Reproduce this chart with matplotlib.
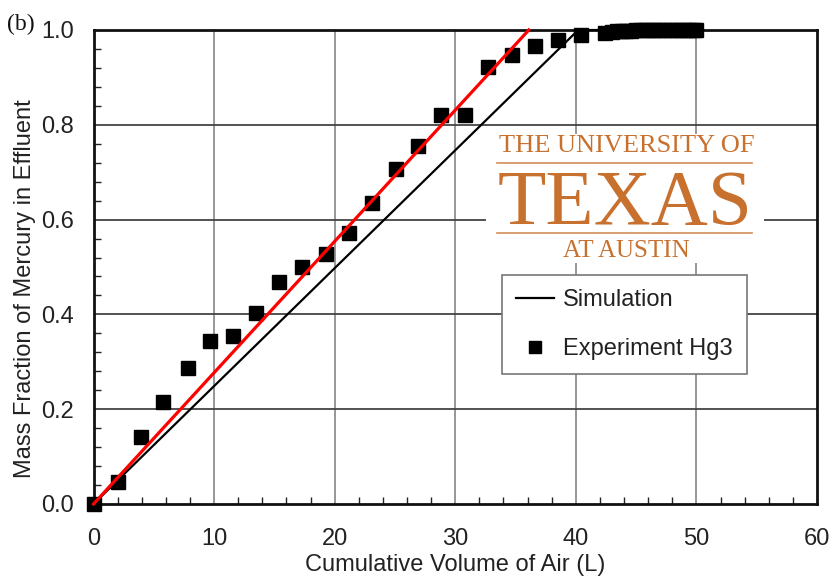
import matplotlib
matplotlib.use("Agg")
import matplotlib.pyplot as plt
from matplotlib.ticker import MultipleLocator, FormatStrFormatter

# ---- data ----
exp_x = [0.0, 2.0, 3.9, 5.8, 7.8, 9.7, 11.6, 13.5, 15.4, 17.3, 19.3, 21.2,
         23.1, 25.1, 26.9, 28.8, 30.8, 32.7, 34.7, 36.6, 38.5, 40.4, 42.4,
         43.0, 43.4, 43.8, 44.2, 44.6, 45.0, 45.4, 45.8, 46.2, 46.6, 47.0,
         47.4, 47.8, 48.2, 48.6, 49.0, 49.4, 49.8, 50.0]
exp_y = [0.0, 0.046, 0.141, 0.215, 0.286, 0.343, 0.354, 0.404, 0.469, 0.499,
         0.528, 0.571, 0.636, 0.707, 0.756, 0.821, 0.821, 0.922, 0.947, 0.966,
         0.979, 0.989, 0.994, 0.996, 0.997, 0.998, 0.998, 0.998, 0.999, 0.999,
         0.999, 0.999, 0.999, 1.0, 1.0, 1.0, 1.0, 1.0, 1.0, 1.0, 1.0, 1.0]
sim_x = [0.0, 40.2, 50.0]
sim_y = [0.0, 1.0, 1.0]
fit_x = [0.0, 36.1]
fit_y = [0.0, 1.0]

xticks = [0, 10, 20, 30, 40, 50, 60]
yticks = [0.0, 0.2, 0.4, 0.6, 0.8, 1.0]

plt.rcParams['font.family'] = ['Liberation Sans', 'DejaVu Sans']
FS = 17

fig = plt.figure(figsize=(8.31, 5.85), dpi=100)
ax = fig.add_axes([93.5 / 831, 1 - 504 / 585, (817 - 93.5) / 831, (504 - 30) / 585])

ax.set_xlim(0, 60)
ax.set_ylim(0, 1.0)
ax.set_xticks(xticks)
ax.set_yticks(yticks)
ax.xaxis.set_minor_locator(MultipleLocator(2))
ax.yaxis.set_minor_locator(MultipleLocator(0.04))
ax.yaxis.set_major_formatter(FormatStrFormatter('%.1f'))

for x in xticks[1:-1]:
    ax.axvline(x, color='#7a7a7a', lw=1.1, zorder=1)
for y in yticks[1:-1]:
    ax.axhline(y, color='#444444', lw=1.3, zorder=1)

ax.tick_params(which='both', direction='in', top=False, right=False,
               labelsize=FS, color='#222222', labelcolor='#222222')
ax.tick_params(which='major', length=0)
ax.tick_params(which='minor', length=5, width=1)
ax.tick_params(axis='y', pad=14)
ax.tick_params(axis='x', pad=17)

for s in ax.spines.values():
    s.set_linewidth(2)
    s.set_color('#111111')

ax.plot(sim_x, sim_y, color='black', lw=1.6, zorder=3, label='Simulation',
        clip_on=False)
ax.plot(exp_x, exp_y, ls='none', marker='s', ms=10.5, color='black',
        zorder=4, label='Experiment Hg3', clip_on=False)
ax.plot(fit_x, fit_y, color='#ff0000', lw=2.3, zorder=5, clip_on=False)

ax.set_xlabel('Cumulative Volume of Air (L)', fontsize=FS, labelpad=3, color='#222222')
ax.set_ylabel('Mass Fraction of Mercury in Effluent', fontsize=FS, labelpad=4, color='#222222')
ax.yaxis.label.set_y(0.455)

leg = ax.legend(loc='upper left', bbox_to_anchor=((502 - 93.5) / 723.5, 1 - (275 - 30) / 474),
                fontsize=FS, frameon=True, fancybox=False, edgecolor='#777777',
                framealpha=1, borderpad=0.6, labelspacing=1.15, handlelength=1.6,
                handletextpad=0.4, borderaxespad=0, markerscale=0.8)
leg.get_frame().set_linewidth(1.2)
leg.set_zorder(6)
for t in leg.get_texts():
    t.set_color('#222222')

# logo watermark
orange = '#C8702E'
fig.patches.append(plt.Rectangle((486 / 831, 1 - 263 / 585), (764 - 486) / 831, (263 - 134) / 585,
                                 transform=fig.transFigure, facecolor='white', edgecolor='none', zorder=10))
fig.text(627 / 831, 1 - 146 / 585, 'THE UNIVERSITY OF', family='Liberation Serif',
         fontsize=19, color=orange, ha='center', va='center', zorder=11)
fig.text(625 / 831, 1 - 205 / 585, 'TEXAS', family='Liberation Serif',
         fontsize=57, color=orange, ha='center', va='center', zorder=11)
fig.text(626 / 831, 1 - 251 / 585, 'AT AUSTIN', family='Liberation Serif',
         fontsize=18, color=orange, ha='center', va='center', zorder=11)
for yy in (163, 233):
    fig.lines.append(plt.Line2D([497 / 831, 752 / 831], [1 - yy / 585, 1 - yy / 585],
                                transform=fig.transFigure, color=orange, lw=1.2, alpha=0.8, zorder=11))

fig.text(7 / 831, 1 - 24 / 585, '(b)', family='Liberation Serif', fontsize=17,
         ha='left', va='center', color='#111111')

fig.savefig('out.png', dpi=100)
